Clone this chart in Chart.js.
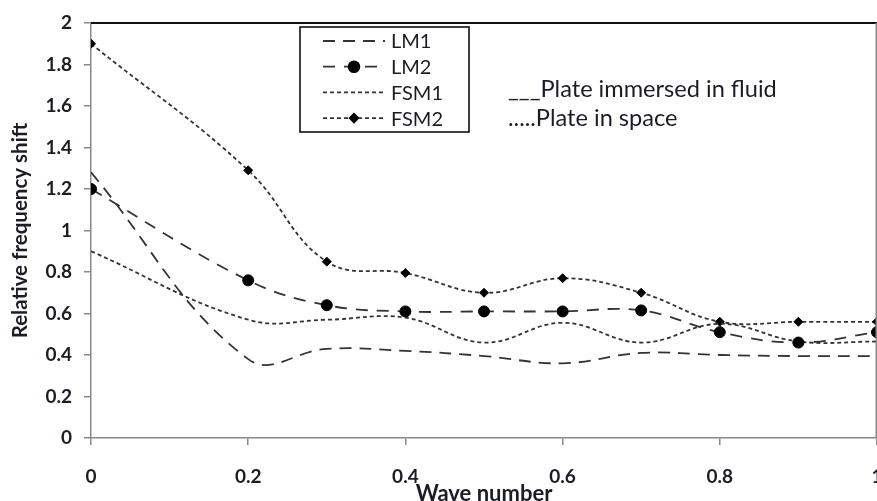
<!DOCTYPE html>
<html><head><meta charset="utf-8">
<script src="https://cdn.jsdelivr.net/npm/chart.js@4.4.1/dist/chart.umd.min.js"></script>
<style>html,body{margin:0;padding:0;background:#fff;overflow:hidden}#wrap{width:877px;height:501px;position:relative}</style>
</head><body><div id="wrap"><canvas id="c" width="877" height="501"></canvas></div>
<script>
// ---- data ----
const waveNumbers = [0, 0.2, 0.3, 0.4, 0.5, 0.6, 0.7, 0.8, 0.9, 1];
const lm1  = [1.28, 0.38, 0.43, 0.42, 0.395, 0.36, 0.41, 0.40, 0.395, 0.395];
const lm2  = [1.20, 0.76, 0.64, 0.61, 0.61, 0.61, 0.615, 0.51, 0.46, 0.51];
const fsm1 = [0.90, 0.57, 0.57, 0.58, 0.46, 0.555, 0.46, 0.55, 0.465, 0.465];
const fsm2 = [1.90, 1.29, 0.85, 0.795, 0.70, 0.77, 0.70, 0.56, 0.56, 0.56];
const seriesNames = ['LM1', 'LM2', 'FSM1', 'FSM2'];
const xTickLabels = ['0', '0.2', '0.4', '0.6', '0.8', '1'];
const yTickLabels = ['0', '0.2', '0.4', '0.6', '0.8', '1', '1.2', '1.4', '1.6', '1.8', '2'];
const xTitle = 'Wave number';
const yTitle = 'Relative frequency shift';
const noteLines = ['___Plate immersed in fluid', '.....Plate in space'];

const TXT = '#1c1c28';
const LINE = '#333333';
const pts = arr => waveNumbers.map((x, i) => ({x, y: arr[i]}));

const datasets = [
  {label: seriesNames[0], data: pts(lm1), borderDash: [12, 8], pointRadius: 0, pointStyle: false},
  {label: seriesNames[1], data: pts(lm2), borderDash: [12, 9], pointRadius: 5.5, pointStyle: 'circle'},
  {label: seriesNames[2], data: pts(fsm1), borderDash: [4, 3], pointRadius: 0, pointStyle: false},
  {label: seriesNames[3], data: pts(fsm2), borderDash: [4, 3], pointRadius: 4.5, pointStyle: 'rectRot'}
].map(d => Object.assign({
  borderColor: LINE, borderWidth: 1.8, backgroundColor: '#000', pointBackgroundColor: '#000',
  pointBorderColor: '#000', pointBorderWidth: 1, tension: 0.4, fill: false
}, d));

const decor = {
  id: 'decor',
  afterDraw(chart) {
    const ctx = chart.ctx, a = chart.chartArea;
    ctx.save();
    // frame top / right
    ctx.strokeStyle = '#111'; ctx.lineWidth = 2;
    ctx.beginPath(); ctx.moveTo(a.left, a.top); ctx.lineTo(a.right, a.top); ctx.stroke();
    ctx.strokeStyle = '#888'; ctx.lineWidth = 1.5;
    ctx.beginPath(); ctx.moveTo(a.right - 0.75, a.top); ctx.lineTo(a.right - 0.75, a.bottom); ctx.stroke();
    // legend box
    ctx.strokeStyle = '#111'; ctx.lineWidth = 1.6;
    ctx.strokeRect(300, 27, 169, 105);
    const ds = chart.data.datasets;
    ds.forEach((d, i) => {
      const y = 41 + i * 25.7;
      ctx.save();
      ctx.strokeStyle = d.borderColor; ctx.lineWidth = d.borderWidth;
      ctx.setLineDash(d.borderDash);
      ctx.beginPath(); ctx.moveTo(323, y); ctx.lineTo(385, y); ctx.stroke();
      ctx.restore();
      if (d.pointStyle) {
        ctx.fillStyle = '#000'; ctx.strokeStyle = '#000';
        Chart.helpers.drawPoint(ctx, {pointStyle: d.pointStyle, radius: d.pointRadius, rotation: 0, borderWidth: 1}, 354, y);
      }
      ctx.fillStyle = TXT; ctx.font = '20px Lato'; ctx.textBaseline = 'middle'; ctx.textAlign = 'left';
      ctx.fillText(d.label, 391, y + 1);
    });
    // notes
    ctx.fillStyle = TXT; ctx.font = '23.6px Lato'; ctx.textBaseline = 'alphabetic'; ctx.textAlign = 'left';
    ctx.fillText(noteLines[0], 508, 97);
    ctx.fillText(noteLines[1], 508, 126);
    ctx.restore();
  }
};

new Chart(document.getElementById('c'), {
  type: 'line',
  data: {datasets},
  plugins: [decor],
  options: {
    responsive: false, animation: false,
    layout: {autoPadding: false, padding: {top: 23, left: 0, right: 0, bottom: 0}},
    plugins: {legend: {display: false}, tooltip: {enabled: false}},
    scales: {
      x: {
        type: 'linear', min: 0, max: 1,
        ticks: {stepSize: 0.2, padding: 20, color: TXT, font: {family: 'Lato', size: 19, weight: 'bold'},
                maxRotation: 0, callback: (v, i) => xTickLabels[i]},
        grid: {drawOnChartArea: false, drawTicks: true, tickLength: 7, color: '#888', lineWidth: 1.5},
        border: {display: true, color: '#888', width: 1.5},
        title: {display: true, text: xTitle, color: TXT, font: {family: 'Lato', size: 22, weight: 'bold'}, padding: {top: 0, bottom: -6}},
        afterFit(s) { s.height = 63; s.paddingLeft = 0; s.paddingRight = 0; }
      },
      y: {
        min: 0, max: 2,
        ticks: {stepSize: 0.2, padding: 12, color: TXT, font: {family: 'Lato', size: 19, weight: 'bold'},
                callback: (v, i) => yTickLabels[i]},
        grid: {drawOnChartArea: false, drawTicks: true, tickLength: 7, color: '#888', lineWidth: 1.5},
        border: {display: true, color: '#888', width: 1.5},
        title: {display: true, text: yTitle, color: TXT, font: {family: 'Lato', size: 20.5, weight: 'bold'}, padding: {top: 8, bottom: 0}},
        afterFit(s) { s.width = 91; s.paddingTop = 0; s.paddingBottom = 0; }
      }
    }
  }
});
</script></body></html>
